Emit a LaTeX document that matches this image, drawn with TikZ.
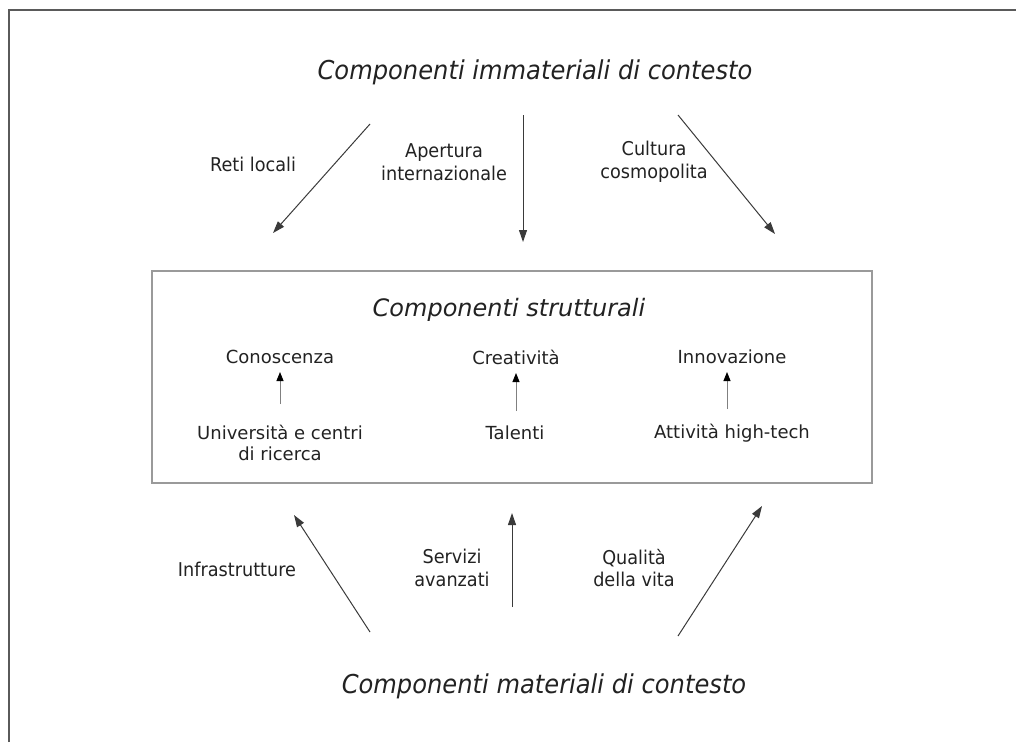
\documentclass[tikz,border=0pt]{standalone}
\usepackage{fontspec}
\setmainfont{DejaVu Sans}
\newfontfamily\condsans[FakeStretch=0.93]{DejaVu Sans}
\usetikzlibrary{arrows.meta}
\definecolor{txt}{HTML}{222222}
\definecolor{arr}{HTML}{3A3A3A}
\definecolor{frm}{HTML}{5A5A5A}
\definecolor{boxc}{HTML}{9A9A9A}
\definecolor{inarr}{HTML}{808080}
\tikzset{
  titletxt/.style={font=\condsans\itshape\fontsize{26}{30}\selectfont, text=txt, inner sep=0pt},
  subtitletxt/.style={font=\itshape\fontsize{24}{28}\selectfont, text=txt, inner sep=0pt},
  lbl/.style={font=\condsans\fontsize{19}{22.5}\selectfont, text=txt, align=center, inner sep=0pt},
  inlbl/.style={font=\fontsize{18}{21}\selectfont, text=txt, align=center, inner sep=0pt},
  bigarrow/.style={draw=arr, line width=1pt, -{Triangle[length=12pt,width=8pt]}},
  smallarrow/.style={draw=inarr, line width=0.9pt, -{Triangle[length=9pt,width=7pt,color=black,fill=black]}},
  boxstyle/.style={draw=boxc, line width=1.5pt}
}
\begin{document}
\begin{tikzpicture}[x=1pt,y=-1pt]
\useasboundingbox (0,0) rectangle (1016,742);
% outer frame (cut at right and bottom)
\draw[frm, line width=2pt] (9,742) -- (9,10) -- (1016,10);
% structural box
\node[boxstyle, minimum width=720pt, minimum height=212pt, inner sep=0pt] (box) at (512,377) {};
% titles
\node[titletxt] (top) at (535,72) {Componenti immateriali di contesto};
\node[titletxt] (bot) at (544,686) {Componenti materiali di contesto};
\node[subtitletxt] (str) at (509,310) {Componenti strutturali};
% top arrows
\coordinate (a1s) at (370,124); \coordinate (a1e) at (273,233);
\coordinate (a2s) at (523,115); \coordinate (a2e) at (523,242);
\coordinate (a3s) at (678,115); \coordinate (a3e) at (775,234);
\draw[bigarrow] (a1s) -- (a1e);
\draw[bigarrow] (a2s) -- (a2e);
\draw[bigarrow] (a3s) -- (a3e);
\node[lbl] (l1) at (253,164) {Reti locali};
\node[lbl] (l2) at (444,162) {Apertura\\internazionale};
\node[lbl] (l3) at (654,162) {Cultura\\cosmopolita};
% bottom arrows
\coordinate (b1s) at (370,632); \coordinate (b1e) at (294,515);
\coordinate (b2s) at (512,607); \coordinate (b2e) at (512,513);
\coordinate (b3s) at (678,636); \coordinate (b3e) at (762,506);
\draw[bigarrow] (b1s) -- (b1e);
\draw[bigarrow] (b2s) -- (b2e);
\draw[bigarrow] (b3s) -- (b3e);
\node[lbl] (m1) at (237,569) {Infrastrutture};
\node[lbl] (m2) at (452,568) {Servizi\\avanzati};
\node[lbl] (m3) at (634,568) {Qualità\\della vita};
% inner components
\node[inlbl] (c1) at (280,357) {Conoscenza};
\node[inlbl] (c2) at (516,357) {Creatività};
\node[inlbl] (c3) at (732,357) {Innovazione};
\node[inlbl] (s1) at (280,443) {Università e centri\\di ricerca};
\node[inlbl] (s2) at (515,433) {Talenti};
\node[inlbl] (s3) at (732,433) {Attività high-tech};
\coordinate (k1s) at (280,404); \coordinate (k1e) at (280,372);
\coordinate (k2s) at (516,411); \coordinate (k2e) at (516,373);
\coordinate (k3s) at (727,409); \coordinate (k3e) at (727,372);
\draw[smallarrow] (k1s) -- (k1e);
\draw[smallarrow] (k2s) -- (k2e);
\draw[smallarrow] (k3s) -- (k3e);
\end{tikzpicture}
\end{document}
